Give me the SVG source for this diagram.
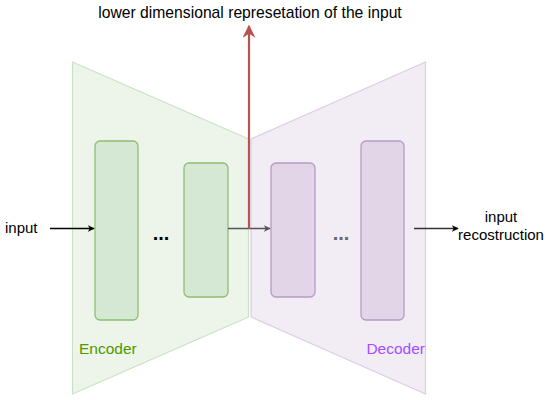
<svg xmlns="http://www.w3.org/2000/svg" width="550" height="400" viewBox="0 0 550 400">
<defs>
<style>
text{font-family:"Liberation Sans",Arial,sans-serif;font-size:15px;fill:#000}
.encbg{fill:#edf5eb;stroke:#c9e2c3;stroke-width:1.2;stroke-linejoin:round}
.decbg{fill:#f2ecf5;stroke:#dccbe4;stroke-width:1.2;stroke-linejoin:round}
.enc{fill:#d5e8d4;stroke:#8fbd73;stroke-width:1.3}
.dec{fill:#e1d5e7;stroke:#b49cc4;stroke-width:1.3}
.dots{font-size:20px;font-weight:bold}
</style>
<marker id="ab" viewBox="0 0 10 10" refX="9" refY="5" markerWidth="7" markerHeight="7" markerUnits="userSpaceOnUse" orient="auto">
<path d="M0,0 L10,5 L0,10 L3,5 Z" fill="#000"/>
</marker>
<marker id="ag" viewBox="0 0 10 10" refX="9" refY="5" markerWidth="7" markerHeight="7" markerUnits="userSpaceOnUse" orient="auto">
<path d="M0,0 L10,5 L0,10 L3,5 Z" fill="#555"/>
</marker>
<marker id="ar" viewBox="0 0 10 10" refX="9" refY="5" markerWidth="13" markerHeight="13" markerUnits="userSpaceOnUse" orient="auto">
<path d="M0,0 L10,5 L0,10 L3,5 Z" fill="#b85450"/>
</marker>
</defs>
<g id="encoder">
<path class="encbg" d="M72.5,62 L248.5,139 L248.5,317 L72.5,394 Z"/>
<rect class="enc" x="95" y="141" width="43" height="179" rx="5"/>
<rect class="enc" x="184" y="163" width="44" height="134" rx="5"/>
<text class="dots" x="161" y="240" text-anchor="middle">...</text>
<text x="79" y="354" style="fill:#4d9900;font-size:15.5px">Encoder</text>
</g>
<g id="decoder">
<path class="decbg" d="M251,139 L425.5,62 L425.5,394 L251,317 Z"/>
<rect class="dec" x="271" y="163" width="44" height="134" rx="5"/>
<rect class="dec" x="361" y="141" width="43" height="179" rx="5"/>
<text class="dots" x="341" y="240" text-anchor="middle" style="fill:#666">...</text>
<text x="425" y="354" text-anchor="end" style="fill:#a64dff;font-size:15.5px">Decoder</text>
</g>
<g id="labels">
<text x="250" y="18" text-anchor="middle" style="font-size:15.7px">lower dimensional represetation of the input</text>
<text x="5" y="233">input</text>
<text x="501" y="222" text-anchor="middle">input</text>
<text x="501" y="240" text-anchor="middle">recostruction</text>
</g>
<g id="connectors" fill="none">
<line x1="50" y1="228.5" x2="94" y2="228.5" stroke="#000" stroke-width="1.3" marker-end="url(#ab)"/>
<line x1="228" y1="228.5" x2="270" y2="228.5" stroke="#555" stroke-width="1.3" marker-end="url(#ag)"/>
<line x1="414" y1="228.5" x2="458" y2="228.5" stroke="#333" stroke-width="1.3" marker-end="url(#ab)"/>
<line x1="249" y1="229" x2="249" y2="26" stroke="#b85450" stroke-width="2.2" marker-end="url(#ar)"/>
</g>
</svg>
